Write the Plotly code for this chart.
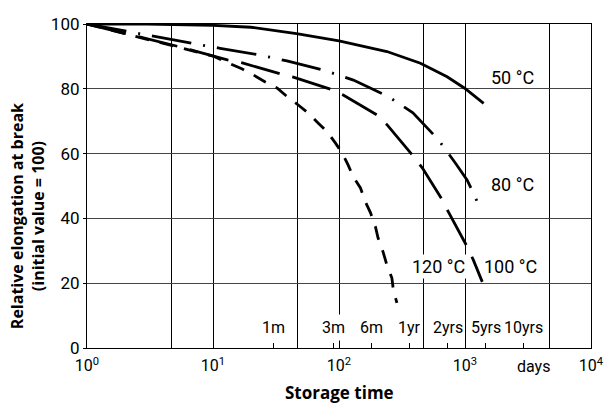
import math
import plotly.graph_objects as go

# Storage time in days and relative elongation at break (%) for each storage temperature
days_50 = [1, 3, 10, 20, 46, 100, 240, 443, 721, 1000, 1406]
elong_50 = [100, 100, 99.6, 99.0, 97.0, 94.8, 91.5, 87.9, 83.7, 80.1, 75.5]

days_80 = [1, 3.4, 6.9, 11.4, 23.8, 38.6, 77.8, 130, 246, 386, 617, 838, 1038, 1208, 1346]
elong_80 = [100, 96.1, 94.0, 92.5, 90.4, 88.6, 85.6, 82.7, 77.6, 72.6, 64.2, 57.1, 51.9, 46.5, 42.1]

days_100 = [1, 5.5, 13, 17.1, 34.2, 43.4, 85.3, 108, 201, 242, 382, 458, 661, 738, 1042, 1164, 1371]
elong_100 = [100, 92.9, 88.9, 88.0, 84.6, 83.6, 79.9, 78.1, 71.9, 68.8, 59.6, 55.6, 45.7, 42.0, 31.2, 27.2, 20.4]

days_120 = [1, 3.2, 10, 13.2, 17.1, 20.9, 26, 32.4, 38.9, 47.5, 57.1, 68.5, 80.7, 93.5, 106, 118,
            130, 148, 162, 178, 195, 204, 224, 240, 263, 270, 288]
elong_120 = [100, 95.1, 90.1, 88.0, 86.1, 84.3, 82.1, 80.2, 77.5, 75.0, 72.5, 69.4, 66.7, 63.3, 60.2, 56.5,
             52.8, 49.4, 45.1, 41.7, 37.3, 34.0, 29.6, 25.6, 21.6, 17.9, 13.9]

# Time marks on the storage-time axis
period_days = [30, 90, 180, 365, 730, 1460, 2920]
period_labels = ["1m", "3m", "6m", "1yr", "2yrs", "5yrs", "10yrs"]

decade_vals = [1, 10, 100, 1000, 10000]
decade_text = ["10<sup>0</sup>", "10<sup>1</sup>", "10<sup>2</sup>", "10<sup>3</sup>", "10<sup>4</sup>"]
extra_grid = [10 ** (k + 2 / 3) for k in range(4)]

y_ticks = [0, 20, 40, 60, 80, 100]

# Curve labels: (text, storage days, elongation)
curve_labels = [("50 °C", 2380, 83.6), ("80 °C", 2380, 50.6), ("120 °C", 613, 25.3), ("100 °C", 2280, 25.3)]

NARROW = "Roboto, Liberation Sans, Arial, sans-serif"
BOLD = "Open Sans, Liberation Sans, Arial, sans-serif"

fig = go.Figure()

fig.add_trace(go.Scatter(x=days_50, y=elong_50, mode="lines",
                         line=dict(color="black", width=2.8), showlegend=False))
fig.add_trace(go.Scatter(x=days_80, y=elong_80, mode="lines",
                         line=dict(color="black", width=2.8, dash="40px,12px,2px,12px"), showlegend=False))
fig.add_trace(go.Scatter(x=days_100, y=elong_100, mode="lines",
                         line=dict(color="black", width=2.8, dash="40px,13px"), showlegend=False))
fig.add_trace(go.Scatter(x=days_120, y=elong_120, mode="lines",
                         line=dict(color="black", width=2.8, dash="14px,11px"), showlegend=False))
# carrier for the secondary tick axis
fig.add_trace(go.Scatter(x=[1], y=[None], xaxis="x2", mode="lines", showlegend=False, hoverinfo="skip"))

annotations = []
for txt, d, v in curve_labels:
    annotations.append(dict(x=math.log10(d), y=v, xref="x", yref="y", text=txt, showarrow=False,
                            font=dict(family=NARROW, size=18, color="black"),
                            bgcolor="white" if txt == "120 °C" else None,
                            xanchor="center", yanchor="middle"))
for d, lab in zip(period_days, period_labels):
    annotations.append(dict(x=math.log10(d), y=6.4, xref="x", yref="y", text=lab, showarrow=False,
                            font=dict(family=NARROW, size=16, color="black"),
                            bgcolor="white" if lab == "3m" else None, borderpad=3 if lab == "3m" else 1,
                            xanchor="center", yanchor="middle"))
annotations.append(dict(x=3.542, y=-0.058, xref="x", yref="paper", text="days", showarrow=False,
                        font=dict(family=NARROW, size=16, color="black"), xanchor="center", yanchor="middle"))
annotations.append(dict(x=0.5, y=-0.136, xref="paper", yref="paper", text="<b>Storage time</b>",
                        showarrow=False, font=dict(family=BOLD, size=17, color="black"),
                        xanchor="center", yanchor="middle"))
annotations.append(dict(x=-0.119, y=0.407, xref="paper", yref="paper",
                        text="<b>Relative elongation at break<br>(initial value = 100)</b>",
                        showarrow=False, textangle=-90, font=dict(family=BOLD, size=16, color="black"),
                        xanchor="center", yanchor="middle"))

fig.update_layout(
    width=605, height=406,
    margin=dict(l=87, r=14, t=24, b=58, autoexpand=False),
    paper_bgcolor="white", plot_bgcolor="white",
    xaxis=dict(type="log", range=[0, 4], automargin=False, tickmode="array", tickvals=decade_vals,
               ticktext=decade_text, showgrid=True, gridcolor="black", gridwidth=1,
               minor=dict(tickmode="array", tickvals=extra_grid, showgrid=True, gridcolor="black",
                          gridwidth=1, ticks=""),
               ticks="inside", ticklen=5, tickcolor="black", ticklabelstandoff=3,
               showline=True, linecolor="black", linewidth=1.2, mirror=True, zeroline=False,
               tickfont=dict(family=NARROW, size=16, color="black")),
    xaxis2=dict(type="log", range=[0, 4], overlaying="x", anchor="y", side="bottom", automargin=False,
                tickmode="array", tickvals=period_days, ticks="inside", ticklen=5, tickcolor="black",
                showticklabels=False, showgrid=False, showline=False, zeroline=False),
    yaxis=dict(range=[0, 100], automargin=False, tickmode="array", tickvals=y_ticks, showgrid=True,
               gridcolor="#444", gridwidth=1, ticks="outside", ticklen=3, tickcolor="black",
               showline=True, linecolor="black", linewidth=1.2, mirror=True, zeroline=False,
               tickfont=dict(family=NARROW, size=17, color="black")),
    annotations=annotations,
)

fig.write_html("out.html")
